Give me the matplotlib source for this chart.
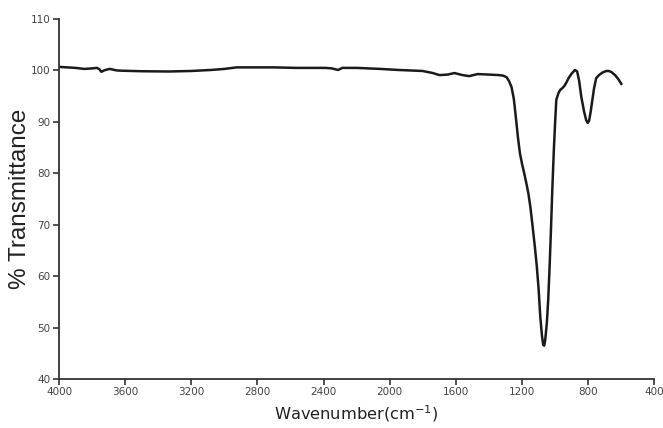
import matplotlib
matplotlib.use("Agg")
import matplotlib.pyplot as plt

# =====================================================
# Data
# =====================================================

wavenumber = [4000, 3900, 3847, 3800, 3770, 3755, 3744, 3720, 3693, 3650,
              3616, 3500, 3335, 3200, 3080, 3000, 2926, 2800, 2700, 2568,
              2450, 2389, 2350, 2338, 2312, 2287, 2200, 2057, 1950, 1801,
              1740, 1699, 1650, 1609, 1560, 1520, 1469, 1400, 1340, 1315,
              1294, 1280, 1264, 1250, 1238, 1225, 1213, 1200, 1187, 1175,
              1162, 1150, 1136, 1122, 1111, 1100, 1090, 1080, 1072, 1066,
              1060, 1050, 1042, 1034, 1026, 1017, 1008, 1000, 993, 980,
              970, 955, 944, 930, 919, 900, 880, 867, 855, 842,
              825, 812, 803, 795, 785, 778, 765, 752, 735, 714,
              690, 676, 660, 638, 620, 600]
transmittance = [100.7, 100.5, 100.3, 100.4, 100.5, 100.2, 99.75, 100.1, 100.3, 100.0,
                 99.95, 99.85, 99.8, 99.9, 100.1, 100.3, 100.6, 100.6, 100.6, 100.5,
                 100.5, 100.5, 100.4, 100.3, 100.1, 100.5, 100.5, 100.3, 100.1, 99.9,
                 99.5, 99.1, 99.2, 99.5, 99.1, 98.9, 99.3, 99.2, 99.1, 99.0,
                 98.7, 98.0, 96.8, 94.5, 91.0, 87.0, 83.9, 81.8, 80.0, 78.2,
                 76.1, 73.5, 69.6, 65.5, 61.9, 57.5, 52.1, 48.5, 46.6, 46.5,
                 47.6, 51.0, 55.4, 61.5, 68.4, 77.0, 84.5, 90.0, 94.3, 95.6,
                 96.2, 96.6, 97.0, 97.8, 98.5, 99.4, 100.1, 99.8, 98.0, 94.9,
                 92.0, 90.3, 89.8, 90.2, 92.0, 93.6, 96.5, 98.5, 99.1, 99.6,
                 99.9, 99.9, 99.7, 99.1, 98.4, 97.4]

x_ticks = [4000, 3600, 3200, 2800, 2400, 2000, 1600, 1200, 800, 400]
y_ticks = [40, 50, 60, 70, 80, 90, 100, 110]

# =====================================================
# Plot
# =====================================================

fig = plt.figure(figsize=(6.63, 4.28), dpi=100)
ax = fig.add_axes([0.089, 0.1145, 0.898, 0.841])

ax.plot(wavenumber, transmittance, color="#1a1a1a", linewidth=1.8)

ax.set_xlim(4000, 400)
ax.set_ylim(40, 110)
ax.set_xticks(x_ticks)
ax.set_yticks(y_ticks)

for side in ["top", "right"]:
    ax.spines[side].set_visible(False)
for side in ["left", "bottom"]:
    ax.spines[side].set_color("#333333")
    ax.spines[side].set_linewidth(1.3)

ax.tick_params(axis="both", direction="out", length=4, width=1.2,
               color="#333333", labelcolor="#444444", labelsize=7.5, pad=2)
for lbl in ax.get_xticklabels() + ax.get_yticklabels():
    lbl.set_family("DejaVu Sans")

ax.set_xlabel("Wavenumber(cm$^{-1}$)", fontsize=11.7, family="DejaVu Sans",
              color="#222222", labelpad=4)
ax.set_ylabel("% Transmittance", fontsize=17.5, family="Liberation Sans",
              color="#222222", labelpad=0)

fig.savefig("out.png", dpi=100)
